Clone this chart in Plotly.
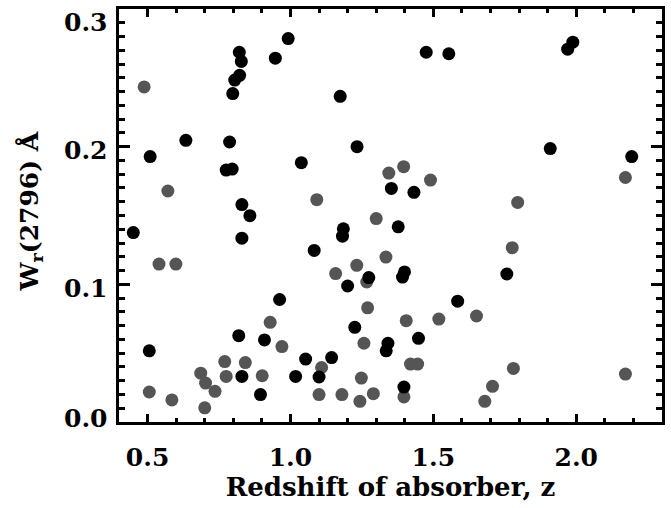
import plotly.graph_objects as go

# Black points (redshift z, W_r(2796) in Angstrom)
black_z = [0.450, 0.509, 0.634, 0.506, 0.787, 0.775, 0.796, 0.830, 0.858, 0.821,
           0.828, 0.822, 0.805, 0.798, 0.947, 0.992, 1.174, 1.233, 1.038, 1.353,
           1.432, 1.475, 1.554, 1.970, 1.988, 1.909, 2.194, 0.830, 1.185, 1.182,
           1.083, 1.274, 1.200, 1.377, 1.399, 1.392, 1.757, 1.585, 0.962, 1.225,
           1.448, 1.341, 1.335, 0.819, 0.909, 1.053, 1.144, 0.830, 1.018, 1.100,
           0.895, 1.397]
black_w = [0.1376, 0.1928, 0.2046, 0.0517, 0.2034, 0.1830, 0.1837, 0.1579, 0.1499, 0.2686,
           0.2619, 0.2518, 0.2484, 0.2386, 0.2643, 0.2785, 0.2366, 0.2000, 0.1884, 0.1697,
           0.1668, 0.2686, 0.2675, 0.2708, 0.2759, 0.1986, 0.1928, 0.1335, 0.1403, 0.1350,
           0.1246, 0.1049, 0.0988, 0.1418, 0.1090, 0.1053, 0.1075, 0.0878, 0.0890, 0.0688,
           0.0608, 0.0572, 0.0517, 0.0627, 0.0596, 0.0457, 0.0468, 0.0331, 0.0331, 0.0327,
           0.0199, 0.0254]

# Grey points
grey_z = [0.488, 0.571, 0.540, 0.599, 0.506, 0.585, 1.092, 1.344, 1.396, 1.490,
          2.172, 1.795, 1.300, 1.776, 1.334, 1.232, 1.158, 1.267, 1.270, 0.929,
          0.970, 1.257, 1.405, 1.519, 1.651, 0.770, 0.842, 1.109, 1.420, 1.445,
          1.780, 0.686, 0.775, 0.901, 1.248, 2.172, 0.703, 0.736, 1.100, 1.180,
          1.290, 1.397, 1.707, 1.243, 1.680, 0.700]
grey_w = [0.2434, 0.1678, 0.1147, 0.1147, 0.0218, 0.0160, 0.1615, 0.1808, 0.1855, 0.1757,
          0.1776, 0.1595, 0.1478, 0.1266, 0.1198, 0.1138, 0.1078, 0.1017, 0.0829, 0.0724,
          0.0548, 0.0572, 0.0736, 0.0748, 0.0770, 0.0439, 0.0432, 0.0396, 0.0421, 0.0421,
          0.0389, 0.0355, 0.0331, 0.0336, 0.0319, 0.0348, 0.0283, 0.0223, 0.0199, 0.0199,
          0.0206, 0.0182, 0.0259, 0.0150, 0.0150, 0.0103]

y_ticks = [0.0, 0.1, 0.2, 0.3]
y_tick_text = ["0.0", "0.1", "0.2", "0.3"]
x_ticks = [0.5, 1.0, 1.5, 2.0]
x_tick_text = ["0.5", "1.0", "1.5", "2.0"]

FONT = "DejaVu Serif"

fig = go.Figure()
fig.add_trace(go.Scatter(x=grey_z, y=grey_w, mode="markers",
                         marker=dict(color="#555555", size=13, line=dict(width=0)),
                         showlegend=False, hoverinfo="skip"))
fig.add_trace(go.Scatter(x=black_z, y=black_w, mode="markers",
                         marker=dict(color="#000000", size=13, line=dict(width=0)),
                         showlegend=False, hoverinfo="skip"))

axis_common = dict(showgrid=False, zeroline=False, showline=True, linecolor="black",
                   linewidth=3, mirror="ticks", ticks="inside", tickcolor="black",
                   tickwidth=2.5)

fig.update_xaxes(range=[0.4, 2.3], tickvals=x_ticks, ticktext=x_tick_text,
                 ticklen=8, ticklabelstandoff=11,
                 tickfont=dict(family=FONT, size=25, color="black", weight="bold"),
                 minor=dict(dtick=0.1, tick0=0.0, ticks="inside", ticklen=4,
                            tickwidth=2.5, tickcolor="black"),
                 title=dict(text="Redshift of absorber, z", standoff=4,
                            font=dict(family=FONT, size=26, color="black", weight="bold")),
                 **axis_common)
fig.update_yaxes(range=[0.0, 0.3], tickvals=y_ticks, showticklabels=False,
                 ticklen=11,
                 minor=dict(dtick=0.01, tick0=0.0, ticks="inside", ticklen=6,
                            tickwidth=2.5, tickcolor="black"),
                 **axis_common)

# y tick labels as annotations (IDL shifts the edge labels inwards)
yshifts = {0.0: 4, 0.1: -4, 0.2: -4, 0.3: -13}
for v, t in zip(y_ticks, y_tick_text):
    fig.add_annotation(x=0, xref="paper", y=v, yref="y", text=t, showarrow=False,
                       xanchor="right", yanchor="middle", xshift=-9, yshift=yshifts[v],
                       font=dict(family=FONT, size=25, color="black", weight="bold"))

fig.add_annotation(x=0, xref="paper", y=0.5, yref="paper",
                   text="W<sub>r</sub>(2796) Å", showarrow=False, textangle=-90,
                   xanchor="center", yanchor="middle", xshift=-89, yshift=4,
                   font=dict(family=FONT, size=25, color="black", weight="bold"))

fig.update_layout(width=671, height=508, margin=dict(l=119, r=6, t=7, b=86),
                  plot_bgcolor="white", paper_bgcolor="white")

fig.write_html("out.html")
